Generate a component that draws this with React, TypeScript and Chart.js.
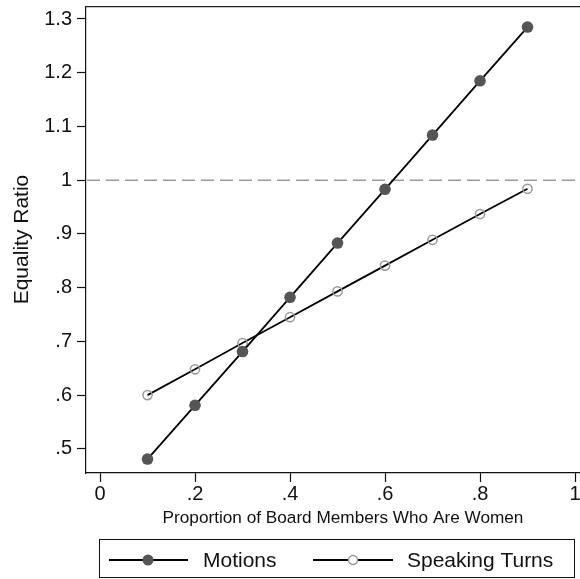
import React, { useEffect, useRef } from "react";
import { Chart, registerables } from "chart.js";

Chart.register(...registerables);

// ---- data ----
const proportions = [0.1, 0.2, 0.3, 0.4, 0.5, 0.6, 0.7, 0.8, 0.9];
const motions = [0.481, 0.581, 0.681, 0.782, 0.883, 0.983, 1.084, 1.185, 1.285];
const speakingTurns = [0.6, 0.648, 0.697, 0.745, 0.793, 0.841, 0.889, 0.937, 0.984];
const seriesNames = ["Motions", "Speaking Turns"];
const xTickValues = [0, 0.2, 0.4, 0.6, 0.8, 1];
const xTickLabels = ["0", ".2", ".4", ".6", ".8", "1"];
const yTickValues = [0.5, 0.6, 0.7, 0.8, 0.9, 1, 1.1, 1.2, 1.3];
const yTickLabels = [".5", ".6", ".7", ".8", ".9", "1", "1.1", "1.2", "1.3"];
const referenceValue = 1;
const xTitle = "Proportion of Board Members Who Are Women";
const yTitle = "Equality Ratio";

const FONT = "'Liberation Sans', Arial, Helvetica, sans-serif";
const TEXT = "#111";

export default function App() {
  const ref = useRef<HTMLCanvasElement | null>(null);

  useEffect(() => {
    const canvas = ref.current;
    if (!canvas) return;

    const decorPlugin = {
      id: "decor",
      beforeDatasetsDraw(chart: any) {
        const { ctx, chartArea } = chart;
        const y = chart.scales.y.getPixelForValue(referenceValue);
        ctx.save();
        ctx.strokeStyle = "#9a9a9a";
        ctx.lineWidth = 1.6;
        ctx.setLineDash([13, 6]);
        ctx.beginPath();
        ctx.moveTo(chartArea.left + 1, y);
        ctx.lineTo(chartArea.right, y);
        ctx.stroke();
        ctx.restore();
      },
      afterDraw(chart: any) {
        const { ctx, chartArea } = chart;
        ctx.save();
        // top frame line
        ctx.strokeStyle = "#222";
        ctx.lineWidth = 1.2;
        ctx.beginPath();
        ctx.moveTo(chartArea.left, chartArea.top + 0.5);
        ctx.lineTo(chartArea.right, chartArea.top + 0.5);
        ctx.stroke();

        // legend box
        const bx = 99.5, by = 539.5, bw = 475, bh = 38;
        ctx.lineWidth = 1;
        ctx.strokeStyle = "#111";
        ctx.strokeRect(bx, by, bw, bh);
        const cy = 560;
        ctx.font = `21px ${FONT}`;
        ctx.fillStyle = TEXT;
        ctx.textBaseline = "middle";
        ctx.textAlign = "left";

        // Motions entry
        ctx.strokeStyle = "#000";
        ctx.lineWidth = 1.8;
        ctx.beginPath();
        ctx.moveTo(109, cy);
        ctx.lineTo(188, cy);
        ctx.stroke();
        ctx.fillStyle = "#555";
        ctx.beginPath();
        ctx.arc(148, cy, 5.5, 0, Math.PI * 2);
        ctx.fill();
        ctx.fillStyle = TEXT;
        ctx.fillText(seriesNames[0], 203, cy + 1);

        // Speaking Turns entry
        ctx.strokeStyle = "#000";
        ctx.beginPath();
        ctx.moveTo(313, cy);
        ctx.lineTo(393, cy);
        ctx.stroke();
        ctx.fillStyle = "#fff";
        ctx.strokeStyle = "#999";
        ctx.lineWidth = 1.5;
        ctx.beginPath();
        ctx.arc(353, cy, 4.5, 0, Math.PI * 2);
        ctx.fill();
        ctx.stroke();
        ctx.fillStyle = TEXT;
        ctx.fillText(seriesNames[1], 407, cy + 1);
        ctx.restore();
      },
    };

    const chart = new Chart(canvas, {
      type: "line",
      data: {
        datasets: [
          {
            label: seriesNames[0],
            data: proportions.map((x, i) => ({ x, y: motions[i] })),
            borderColor: "#000",
            borderWidth: 1.8,
            pointRadius: 5.8,
            pointBackgroundColor: "#555",
            pointBorderColor: "#555",
            pointBorderWidth: 0,
            fill: false,
            tension: 0,
          },
          {
            label: seriesNames[1],
            data: proportions.map((x, i) => ({ x, y: speakingTurns[i] })),
            borderColor: "#000",
            borderWidth: 1.8,
            pointRadius: 4.6,
            pointBackgroundColor: "rgba(0,0,0,0)",
            pointBorderColor: "#999",
            pointBorderWidth: 1.5,
            fill: false,
            tension: 0,
          },
        ],
      },
      options: {
        responsive: false,
        animation: false,
        devicePixelRatio: 1,
        layout: { padding: { left: 0, top: 6, right: 20, bottom: 0 } },
        plugins: {
          legend: { display: false },
          tooltip: { enabled: false },
        },
        scales: {
          x: {
            type: "linear",
            min: -0.0295,
            max: 1.0526,
            afterBuildTicks: (s: any) => {
              s.ticks = xTickValues.map((v) => ({ value: v }));
            },
            afterFit: (s: any) => {
              s.height = 106;
              s.paddingLeft = 0;
              s.paddingRight = 0;
            },
            ticks: {
              font: { family: FONT, size: 20 },
              color: TEXT,
              padding: 0,
              maxRotation: 0,
              autoSkip: false,
              callback: (_v: any, i: number) => xTickLabels[i],
            },
            grid: {
              drawOnChartArea: false,
              drawTicks: true,
              tickLength: 9,
              tickColor: "#111",
              tickWidth: 1.2,
            },
            border: { display: true, color: "#111", width: 1.2 },
            title: {
              display: true,
              text: xTitle,
              font: { family: FONT, size: 17.2 },
              color: TEXT,
              padding: { top: 0, bottom: 50 },
            },
          },
          y: {
            type: "linear",
            min: 0.455,
            max: 1.324,
            afterBuildTicks: (s: any) => {
              s.ticks = yTickValues.map((v) => ({ value: v }));
            },
            afterFit: (s: any) => {
              s.width = 86;
              s.paddingTop = 0;
              s.paddingBottom = 0;
            },
            ticks: {
              font: { family: FONT, size: 20 },
              color: TEXT,
              padding: 5,
              autoSkip: false,
              callback: (_v: any, i: number) => yTickLabels[i],
            },
            grid: {
              drawOnChartArea: false,
              drawTicks: true,
              tickLength: 9,
              tickColor: "#111",
              tickWidth: 1.2,
            },
            border: { display: true, color: "#111", width: 1.2 },
            title: {
              display: true,
              text: yTitle,
              font: { family: FONT, size: 21 },
              color: TEXT,
              padding: { top: 10, bottom: 0 },
            },
          },
        },
      },
      plugins: [decorPlugin],
    } as any);

    return () => chart.destroy();
  }, []);

  return (
    <div
      style={{
        position: "fixed",
        left: 0,
        top: 0,
        width: 580,
        height: 579,
        overflow: "hidden",
        background: "#fff",
      }}
    >
      <canvas ref={ref} width={620} height={579} style={{ display: "block", width: 620, height: 579 }} />
    </div>
  );
}
